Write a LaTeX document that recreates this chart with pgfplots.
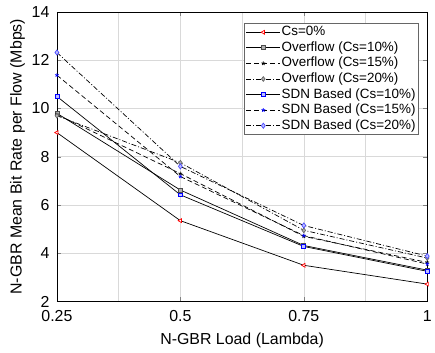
\documentclass[border=0pt]{standalone}
\usepackage{fontspec}
\setmainfont{Liberation Sans}
\usepackage{pgfplots}
\pgfplotsset{compat=1.18}
\begin{document}
\begin{tikzpicture}[x=1bp,y=1bp]
\path (0,0) rectangle (435,353);
\begin{axis}[
  at={(57bp,51bp)}, anchor=south west,
  scale only axis, width=371bp, height=290bp,
  xmin=0.25, xmax=1, ymin=2, ymax=14,
  xtick={0.25,0.5,0.75,1}, xticklabels={0.25,0.5,0.75,1},
  minor xtick={0.375,0.625,0.875},
  ytick={2,4,...,14},
  grid=both,
  major grid style={gray!30, line width=0.5pt},
  minor grid style={gray!30, line width=0.5pt},
  tick align=inside, tick pos=both,
  major tick length=4bp, minor tick length=0bp,
  axis line style={black, line width=0.6pt},
  /pgf/number format/assume math mode=true,
  ticklabel style={font=\fontsize{16}{18}\selectfont},
  xticklabel style={yshift=-5.5bp},
  yticklabel style={xshift=-4bp},
  xlabel={N-GBR Load (Lambda)},
  ylabel={N-GBR Mean Bit Rate per Flow (Mbps)},
  label style={font=\fontsize{16}{18}\selectfont},
  xlabel style={yshift=-4.5bp},
  ylabel style={yshift=0bp},
  legend style={at={(0.976,0.962)}, anchor=north east, font=\fontsize{13.5}{15.6}\selectfont,
    draw=gray!80!black, line width=0.6pt, inner sep=1.5bp, row sep=0.6bp,
    nodes={inner sep=1bp, text height=10bp, text depth=3bp},
    legend cell align=left},
  legend image code/.code={
    \draw[mark repeat=2,mark phase=2,#1] plot coordinates {(0cm,0cm) (0.6cm,0cm) (1.2cm,0cm)};},
  every axis plot/.append style={line width=0.7pt},
  mdash/.style={dash pattern=on 5bp off 3bp},
  mdashdot/.style={dash pattern=on 5bp off 2bp on 1bp off 2bp},
]
\addplot[black, mark=triangle*, mark options={rotate=90, draw=red, fill=white, solid, scale=1.1}]
  coordinates {(0.25,9.0) (0.5,5.35) (0.75,3.5) (1,2.72)};
\addlegendentry{Cs=0\%}
\addplot[black, mark=square*, mark options={draw=black!70, fill=gray!60, solid, scale=1.0}]
  coordinates {(0.25,9.8) (0.5,6.62) (0.75,4.32) (1,3.3)};
\addlegendentry{Overflow (Cs=10\%)}
\addplot[black, mdash, mark=star, mark options={draw=black, solid, scale=1.0}]
  coordinates {(0.25,9.75) (0.5,7.3) (0.75,4.7) (1,3.62)};
\addlegendentry{Overflow (Cs=15\%)}
\addplot[black, mdashdot, mark=diamond*, mark options={draw=black!60, fill=gray!60, solid, scale=1.2}]
  coordinates {(0.25,9.7) (0.5,7.75) (0.75,4.95) (1,3.8)};
\addlegendentry{Overflow (Cs=20\%)}
\addplot[black, mark=square*, mark options={draw=blue, fill=blue!25, solid, scale=1.0}]
  coordinates {(0.25,10.5) (0.5,6.42) (0.75,4.28) (1,3.25)};
\addlegendentry{SDN Based (Cs=10\%)}
\addplot[black, mdash, mark=star, mark options={draw=blue, solid, scale=1.0}]
  coordinates {(0.25,11.38) (0.5,7.18) (0.75,4.73) (1,3.55)};
\addlegendentry{SDN Based (Cs=15\%)}
\addplot[black, mdashdot, mark=diamond*, mark options={draw=blue!70, fill=blue!25, solid, scale=1.3}]
  coordinates {(0.25,12.32) (0.5,7.6) (0.75,5.15) (1,3.88)};
\addlegendentry{SDN Based (Cs=20\%)}
\end{axis}
\end{tikzpicture}
\end{document}
